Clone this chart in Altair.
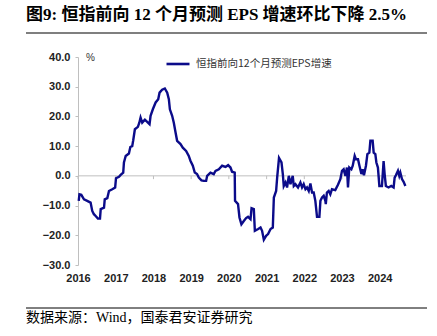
import altair as alt
import pandas as pd

# ---------------- data ----------------
dates = [
    "2016-01-08", "2016-01-15", "2016-02-02", "2016-02-28", "2016-03-30", "2016-05-02", "2016-05-18",
    "2016-06-03", "2016-06-20", "2016-07-12", "2016-08-01", "2016-08-08", "2016-09-09", "2016-09-16",
    "2016-10-11", "2016-10-27", "2016-11-28", "2016-12-26", "2017-01-03", "2017-02-01", "2017-02-17",
    "2017-03-14", "2017-03-21", "2017-04-07", "2017-05-08", "2017-05-22", "2017-06-09", "2017-06-19",
    "2017-07-05", "2017-08-03", "2017-08-17", "2017-08-29", "2017-09-14", "2017-10-10", "2017-11-01",
    "2017-11-24", "2017-12-04", "2017-12-26", "2018-01-22", "2018-02-16", "2018-03-01", "2018-03-26",
    "2018-04-21", "2018-05-14", "2018-05-30", "2018-06-09", "2018-07-01", "2018-07-17", "2018-08-03",
    "2018-08-18", "2018-09-20", "2018-10-12", "2018-11-13", "2018-12-09", "2018-12-25", "2019-01-17",
    "2019-02-05", "2019-02-27", "2019-03-16", "2019-04-11", "2019-05-04", "2019-05-26", "2019-06-05",
    "2019-07-07", "2019-08-08", "2019-08-25", "2019-09-26", "2019-10-28", "2019-11-30", "2019-12-25",
    "2020-01-17", "2020-02-01", "2020-02-27", "2020-03-01", "2020-03-30", "2020-04-13", "2020-05-02",
    "2020-05-25", "2020-06-16", "2020-07-05", "2020-07-29", "2020-08-08", "2020-08-30", "2020-09-09",
    "2020-10-11", "2020-11-03", "2020-11-18", "2020-12-05", "2020-12-27", "2021-01-15", "2021-02-08",
    "2021-03-02", "2021-03-12", "2021-04-03", "2021-04-13", "2021-05-01", "2021-05-25", "2021-06-07",
    "2021-06-16", "2021-07-03", "2021-07-18", "2021-08-04", "2021-08-20", "2021-09-11", "2021-09-21",
    "2021-10-07", "2021-11-01", "2021-11-24", "2021-12-10", "2021-12-26", "2022-01-12", "2022-01-27",
    "2022-02-13", "2022-03-01", "2022-03-17", "2022-04-02", "2022-04-18", "2022-05-04", "2022-05-27",
    "2022-06-06", "2022-06-22", "2022-07-08", "2022-07-24", "2022-07-28", "2022-08-08", "2022-08-25",
    "2022-09-10", "2022-09-26", "2022-10-28", "2022-11-23", "2022-12-16", "2023-01-01", "2023-01-17",
    "2023-02-03", "2023-02-18", "2023-02-28", "2023-03-13", "2023-04-02", "2023-04-15", "2023-05-04",
    "2023-05-16", "2023-06-05", "2023-06-19", "2023-07-08", "2023-07-20", "2023-08-02", "2023-08-21",
    "2023-09-04", "2023-09-23", "2023-10-03", "2023-10-25", "2023-11-04", "2023-11-20", "2023-11-30",
    "2023-12-15", "2023-12-29", "2024-01-23", "2024-02-08", "2024-02-18", "2024-03-01", "2024-03-27",
    "2024-04-22", "2024-05-15", "2024-05-25", "2024-06-06", "2024-06-26", "2024-07-09", "2024-07-19",
    "2024-08-04", "2024-08-20", "2024-09-06",
]
values = [
    -8.4, -6.2, -6.4, -7.9, -8.4, -9.0, -11.8,
    -12.9, -13.5, -14.4, -14.4, -11.2, -10.7, -7.9,
    -7.5, -5.1, -4.5, -3.9, -0.8, -0.3, 0.3,
    1.1, 4.5, 6.7, 7.5, 9.7, 10.0, 12.0,
    15.7, 16.5, 17.9, 19.6, 17.9, 18.9, 18.2,
    17.4, 20.2, 22.4, 24.7, 25.8, 28.0, 29.0,
    29.4, 28.0, 25.8, 22.4, 20.2, 17.9, 14.6,
    11.8, 10.7, 9.5, 8.4, 6.7, 5.1, 3.4,
    1.1, 0.6, -0.6, -1.5, -1.7, -1.7, 0.0,
    1.1, 0.6, 1.7, 2.2, 3.4, 3.0, 3.6,
    2.8, 1.4, 1.1, -8.4, -9.5, -14.0, -16.3,
    -15.2, -14.2, -13.8, -14.6, -10.9, -11.2, -18.5,
    -17.9, -17.4, -18.5, -21.5, -20.2, -19.6, -17.9,
    -17.4, -7.3, -5.1, -0.6, 6.0, 4.5, 0.6,
    -3.4, -2.2, -3.9, 0.0, -2.8, 0.0, -3.4,
    -2.8, -3.9, -2.2, -3.9, -2.8, -4.5, -3.9,
    -5.1, -2.6, -5.6, -5.6, -8.4, -13.8, -13.8,
    -8.4, -7.3, -6.7, -8.4, -9.5, -5.6, -5.1,
    -6.2, -4.5, -4.8, -3.0, -1.1, 1.7, 2.2,
    0.0, 2.8, -3.9, 2.8, 2.2, 3.4, 6.7,
    5.6, 5.6, 3.4, 0.6, 2.2, 0.2, 3.4,
    7.3, 7.8, 11.8, 11.8, 7.8, 7.3, 4.5,
    2.8, -3.4, -3.4, 5.0, 0.6, -3.4, -3.9,
    -3.4, -3.9, -0.6, 0.2, 1.7, 0.0, 1.1,
    -1.1, -2.0, -3.4,
]
series_name = "恒指前向12个月预测EPS增速"
tick_years = [2016, 2017, 2018, 2019, 2020, 2021, 2022, 2023, 2024]
y_ticks = [-30, -20, -10, 0, 10, 20, 30, 40]

title_text = "图9:  恒指前向 12 个月预测 EPS 增速环比下降 2.5%"
source_text = "数据来源：Wind，国泰君安证券研究"
unit_text = "%"

# ---------------- layout ----------------
W, H = 328, 208
LINE_COLOR = "#0b0b8a"
AXIS_GRAY = "#bfbfbf"

df = pd.DataFrame({"date": dates, "value": values, "series": series_name})
ticks_df = pd.DataFrame({
    "date": [f"{y}-01-01" for y in tick_years],
    "value": [0.0] * len(tick_years),
    "z2": [-1.1] * len(tick_years),
})
zero_df = pd.DataFrame({"value": [0.0]})

x_scale = alt.Scale(domain=[alt.DateTime(year=2016, month=1, date=1),
                            alt.DateTime(year=2024, month=9, date=12)])
y_scale = alt.Scale(domain=[-30, 40], nice=False, zero=False)

x_axis = alt.Axis(
    values=[alt.DateTime(year=y, month=1, date=1) for y in tick_years],
    format="%Y", domain=False, ticks=False, grid=False, title=None,
    labelFont="Liberation Sans", labelFontSize=11, labelFontWeight="bold",
    labelColor="#222222", labelPadding=7, labelFlush=False, labelOverlap=False,
)
y_axis = alt.Axis(
    values=y_ticks, format=".1f", domain=True, domainColor=AXIS_GRAY,
    ticks=True, tickColor=AXIS_GRAY, tickSize=3, grid=False, title=None,
    labelFont="Liberation Sans", labelFontSize=11, labelFontWeight="bold",
    labelColor="#222222", labelPadding=5, labelOverlap=False, labelFlush=False,
)

zero_line = alt.Chart(zero_df).mark_rule(
    color=AXIS_GRAY, strokeWidth=1
).encode(y=alt.Y("value:Q", scale=y_scale, axis=y_axis), x=alt.value(0), x2=alt.value(W))

x_ticks = alt.Chart(ticks_df).mark_rule(color=AXIS_GRAY, strokeWidth=1).encode(
    x=alt.X("date:T", scale=x_scale, axis=x_axis),
    y=alt.Y("value:Q", scale=y_scale, axis=y_axis),
    y2=alt.Y2("z2:Q"),
)

line = alt.Chart(df).mark_line(strokeWidth=2.4).encode(
    x=alt.X("date:T", scale=x_scale, axis=x_axis),
    y=alt.Y("value:Q", scale=y_scale, axis=y_axis),
    color=alt.Color(
        "series:N",
        scale=alt.Scale(range=[LINE_COLOR]),
        legend=alt.Legend(
            title=None, orient="none", legendX=87, legendY=-6,
            symbolType="stroke", symbolSize=529, symbolStrokeWidth=2.6,
            labelFont="Noto Sans CJK SC", labelFontSize=10.5, labelColor="#333333",
            labelOffset=5, padding=0,
        ),
    ),
)

def text_layer(txt, x, y, size, weight="normal", font="Noto Sans CJK SC", color="#222222"):
    return alt.Chart(pd.DataFrame({"t": [txt]})).mark_text(
        align="left", baseline="middle", fontSize=size, fontWeight=weight,
        font=font, color=color,
    ).encode(text="t:N", x=alt.value(x), y=alt.value(y))

title = text_layer(title_text, -52, -42, 17, "bold", "Liberation Serif, Noto Sans CJK SC", "#000000")
title_rule = alt.Chart(pd.DataFrame({"a": [0]})).mark_rule(color="#000000", strokeWidth=1.2).encode(
    x=alt.value(-52), x2=alt.value(349), y=alt.value(-24))
unit = text_layer(unit_text, 8, 1, 10, "normal", "Liberation Sans", "#333333")
source_rule = alt.Chart(pd.DataFrame({"a": [0]})).mark_rule(color="#000000", strokeWidth=1).encode(
    x=alt.value(-52), x2=alt.value(349), y=alt.value(251))
source = text_layer(source_text, -52, 261, 14, "normal", "Liberation Serif, Noto Sans CJK SC", "#000000")

chart = alt.layer(
    zero_line, x_ticks, line, title, title_rule, unit, source_rule, source
).properties(
    width=W, height=H,
    autosize=alt.AutoSizeParams(type="none"),
    padding={"left": 78, "top": 57, "right": 31, "bottom": 71},
    background="white",
).configure_view(stroke=None)

chart.save("out.html", embed_options={"renderer": "svg", "actions": False})
